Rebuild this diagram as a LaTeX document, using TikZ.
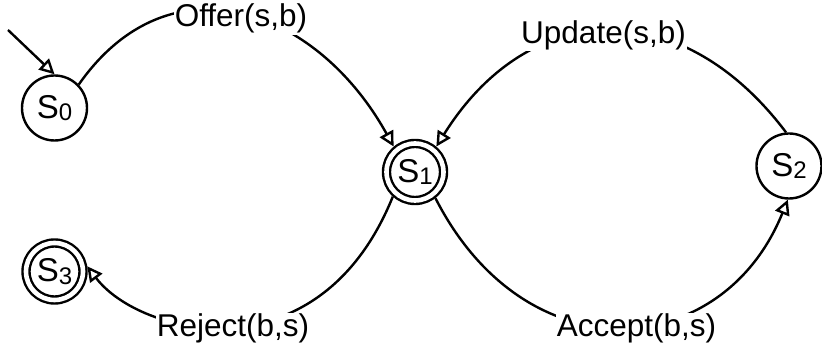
\documentclass[tikz,border=0pt]{standalone}
\usepackage{fontspec}
\setmainfont{Liberation Sans}
\usetikzlibrary{arrows.meta}
% state name with a lowered, smaller index
\newcommand{\statename}[1]{S\raisebox{-2.5pt}{\fontsize{24}{24}\selectfont #1}}
\begin{document}
\begin{tikzpicture}[x=1pt,y=1pt,
  state/.style={circle, draw, line width=2.4pt, minimum size=65pt, inner sep=0pt,
    outer sep=1.2pt, font=\fontsize{33}{33}\selectfont},
  accepting/.style={circle, draw, line width=2.4pt, double, double distance=4.6pt,
    minimum size=57pt, inner sep=0pt, outer sep=4.7pt, font=\fontsize{33}{33}\selectfont},
  edge/.style={line width=2.4pt, -{Triangle[fill=white, length=15pt, width=15pt]}},
  lbl/.style={fill=white, inner sep=1pt, anchor=base, font=\fontsize{31.5}{31.5}\selectfont}
]
\useasboundingbox (0,0) rectangle (822,347);

% states
\node[state]     (s0) at (54.5,239) {\statename{0}};
\node[accepting] (s1) at (415,175)  {\statename{1}};
\node[state]     (s2) at (789,181)  {\statename{2}};
\node[accepting] (s3) at (54.5,75.5) {\statename{3}};

% initial arrow
\coordinate (init) at (8,317);
\draw[edge] (init) -- (s0.north);

% transitions
\draw[edge] (s0.44) to[out=55, in=119, distance=159pt] (s1.130);
\draw[edge] (s2.95) to[out=127, in=58, distance=175pt] (s1.50);
\draw[edge] (s1.308) to[out=297, in=248, out distance=200pt, in distance=175pt] (s2.268);
\draw[edge] (s1.228) to[out=248, in=307, out distance=197pt, in distance=87pt] (s3.9);

% transition labels
\node[lbl] (loffer)  at (241,320)    {Offer(s,b)};
\node[lbl] (lupdate) at (603.5,303.5) {Update(s,b)};
\node[lbl] (lreject) at (233,10.3)   {Reject(b,s)};
\node[lbl] (laccept) at (636.5,10.3) {Accept(b,s)};
\end{tikzpicture}
\end{document}
